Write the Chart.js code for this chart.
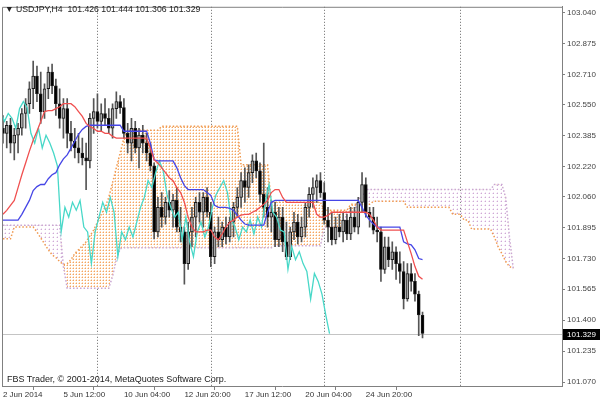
<!DOCTYPE html>
<html>
<head>
<meta charset="utf-8">
<title>USDJPY,H4</title>
<script src="https://cdn.jsdelivr.net/npm/chart.js@4.4.1/dist/chart.umd.min.js"></script>
<style>
  html, body { margin: 0; padding: 0; background: #fff; }
  #wrap { position: relative; width: 600px; height: 404px; }
  .note { position: absolute; font-family: "Liberation Sans", Arial, sans-serif; color: #222; white-space: pre; }
  #head { left: 5px; top: 4px; font-size: 8.7px; }
  #foot { left: 7px; top: 374px; font-size: 9px; }
</style>
</head>
<body>
<div id="wrap">
  <canvas id="chart" width="600" height="404"></canvas>
  <div id="head" class="note">▼ USDJPY,H4  101.426 101.444 101.306 101.329</div>
  <div id="foot" class="note">FBS Trader, © 2001-2014, MetaQuotes Software Corp.</div>
</div>
<script>
/* Velas H4, barra 0 = 2 Jun 2014 */
const opens = [
  102.424, 102.397, 102.440, 102.345, 102.387, 102.424, 102.503, 102.555, 102.635, 102.703,
  102.608, 102.513, 102.635, 102.724, 102.650, 102.555, 102.477, 102.529, 102.397, 102.355,
  102.319, 102.292, 102.266, 102.250, 102.477, 102.513, 102.461, 102.503, 102.477, 102.424,
  102.529, 102.566, 102.534, 102.397, 102.345, 102.424, 102.319, 102.387, 102.345, 102.292,
  102.224, 101.871, 102.002, 101.950, 102.029, 101.987, 102.039, 101.897, 101.871, 101.702,
  101.871, 101.950, 102.029, 101.976, 102.055, 101.976, 101.739, 101.871, 101.829, 101.897,
  101.844, 101.923, 102.002, 102.055, 102.145, 102.108, 102.187, 102.250, 102.197, 102.071,
  102.002, 101.950, 101.976, 101.829, 101.950, 101.818, 101.739, 101.871, 101.923, 101.844,
  101.897, 102.002, 102.071, 102.108, 102.145, 102.081, 101.934, 101.897, 101.829, 101.897,
  101.871, 101.934, 101.860, 101.950, 101.897, 102.029, 102.124, 101.976, 101.950, 101.881,
  101.871, 101.671, 101.792, 101.723, 101.765, 101.702, 101.660, 101.513, 101.649, 101.607,
  101.539, 101.426,
];
const highs = [
  102.492, 102.461, 102.477, 102.424, 102.450, 102.529, 102.582, 102.672, 102.782, 102.756,
  102.724, 102.661, 102.750, 102.766, 102.687, 102.635, 102.582, 102.582, 102.461, 102.424,
  102.397, 102.371, 102.345, 102.503, 102.582, 102.608, 102.555, 102.582, 102.529, 102.555,
  102.619, 102.598, 102.582, 102.450, 102.477, 102.461, 102.424, 102.440, 102.397, 102.345,
  102.239, 102.055, 102.081, 102.055, 102.092, 102.071, 102.108, 102.002, 101.897, 101.923,
  102.002, 102.055, 102.081, 102.081, 102.108, 102.029, 101.897, 101.950, 101.923, 101.950,
  101.950, 102.029, 102.108, 102.187, 102.213, 102.229, 102.282, 102.292, 102.239, 102.345,
  102.108, 102.039, 102.029, 102.002, 102.002, 101.923, 101.897, 101.976, 101.965, 101.950,
  102.029, 102.108, 102.160, 102.176, 102.187, 102.134, 102.002, 101.976, 101.950, 101.965,
  101.976, 101.965, 102.002, 102.002, 102.055, 102.187, 102.160, 102.002, 102.002, 101.950,
  101.897, 101.844, 101.844, 101.818, 101.792, 101.765, 101.713, 101.702, 101.702, 101.649,
  101.555, 101.444,
];
const lows = [
  102.345, 102.319, 102.292, 102.255, 102.292, 102.387, 102.424, 102.503, 102.529, 102.566,
  102.450, 102.477, 102.582, 102.608, 102.492, 102.424, 102.371, 102.319, 102.303, 102.266,
  102.239, 102.229, 102.097, 102.213, 102.397, 102.424, 102.408, 102.440, 102.397, 102.371,
  102.477, 102.503, 102.371, 102.292, 102.250, 102.292, 102.213, 102.292, 102.250, 102.197,
  101.834, 101.844, 101.897, 101.913, 101.950, 101.897, 101.871, 101.818, 101.592, 101.671,
  101.792, 101.844, 101.923, 101.897, 101.950, 101.686, 101.702, 101.792, 101.792, 101.807,
  101.818, 101.844, 101.950, 102.002, 102.029, 102.055, 102.134, 102.160, 102.029, 101.950,
  101.897, 101.871, 101.792, 101.792, 101.765, 101.723, 101.723, 101.829, 101.807, 101.818,
  101.844, 101.950, 102.002, 102.029, 102.055, 101.913, 101.818, 101.802, 101.807, 101.844,
  101.818, 101.829, 101.829, 101.871, 101.860, 101.976, 101.950, 101.897, 101.860, 101.818,
  101.607, 101.649, 101.686, 101.671, 101.618, 101.597, 101.460, 101.502, 101.555, 101.502,
  101.318, 101.306,
];
const closes = [
  102.397, 102.440, 102.345, 102.387, 102.424, 102.503, 102.555, 102.635, 102.703, 102.608,
  102.513, 102.635, 102.724, 102.650, 102.555, 102.477, 102.529, 102.397, 102.355, 102.319,
  102.292, 102.266, 102.250, 102.477, 102.513, 102.461, 102.503, 102.477, 102.424, 102.529,
  102.566, 102.534, 102.397, 102.345, 102.424, 102.319, 102.387, 102.345, 102.292, 102.224,
  101.871, 102.002, 101.950, 102.029, 101.987, 102.039, 101.897, 101.871, 101.702, 101.871,
  101.950, 102.029, 101.976, 102.055, 101.976, 101.739, 101.871, 101.829, 101.897, 101.844,
  101.923, 102.002, 102.055, 102.145, 102.108, 102.187, 102.250, 102.197, 102.071, 102.002,
  101.950, 101.976, 101.829, 101.950, 101.818, 101.739, 101.871, 101.923, 101.844, 101.897,
  102.002, 102.071, 102.108, 102.145, 102.081, 101.934, 101.897, 101.829, 101.897, 101.871,
  101.934, 101.860, 101.950, 101.897, 102.029, 102.124, 101.976, 101.950, 101.881, 101.871,
  101.671, 101.792, 101.723, 101.765, 101.702, 101.660, 101.513, 101.649, 101.607, 101.539,
  101.428, 101.329,
];

/* Ichimoku */
const tenkan = [
  101.965, 101.986, 102.013, 102.039, 102.107, 102.176, 102.239, 102.302, 102.360, 102.408,
  102.460, 102.513, 102.518, 102.518, 102.529, 102.539, 102.555, 102.555, 102.555, 102.539,
  102.513, 102.487, 102.450, 102.434, 102.423, 102.408, 102.408, 102.397, 102.397, 102.381,
  102.371, 102.371, 102.371, 102.371, 102.371, 102.371, 102.371, 102.371, 102.371, 102.318,
  102.255, 102.239, 102.213, 102.187, 102.160, 102.144, 102.107, 102.081, 102.029, 101.950,
  101.897, 101.871, 101.871, 101.871, 101.881, 101.881, 101.844, 101.829, 101.860, 101.897,
  101.923, 101.934, 101.950, 101.960, 101.965, 101.965, 101.976, 101.986, 102.002, 102.018,
  102.039, 102.081, 102.097, 102.097, 102.055, 102.029, 102.029, 102.029, 102.029, 102.029,
  102.029, 102.029, 102.029, 101.965, 101.950, 101.950, 101.960, 101.976, 101.976, 101.976,
  101.976, 101.976, 101.976, 101.976, 101.976, 101.976, 101.976, 101.965, 101.934, 101.897,
  101.881, 101.881, 101.881, 101.881, 101.881, 101.881, 101.881, 101.818, 101.755, 101.686,
  101.634, 101.618,
];
const kijun = [
  101.934, 101.934, 101.934, 101.934, 101.934, 101.965, 102.002, 102.039, 102.092, 102.113,
  102.124, 102.124, 102.155, 102.176, 102.187, 102.229, 102.261, 102.282, 102.318, 102.355,
  102.392, 102.418, 102.434, 102.440, 102.440, 102.440, 102.440, 102.440, 102.440, 102.440,
  102.440, 102.440, 102.408, 102.408, 102.408, 102.408, 102.408, 102.408, 102.408, 102.345,
  102.255, 102.250, 102.250, 102.250, 102.250, 102.250, 102.213, 102.160, 102.118, 102.097,
  102.097, 102.097, 102.097, 102.097, 102.081, 102.066, 102.013, 102.002, 102.002, 102.002,
  101.997, 101.986, 101.960, 101.934, 101.913, 101.907, 101.907, 101.907, 101.907, 101.907,
  101.976, 102.029, 102.039, 102.039, 102.039, 102.039, 102.039, 102.039, 102.039, 102.039,
  102.039, 102.039, 102.039, 102.039, 102.039, 102.039, 102.039, 102.039, 102.039, 102.039,
  102.039, 102.039, 102.039, 102.039, 102.039, 102.002, 101.960, 101.934, 101.913, 101.897,
  101.897, 101.897, 101.897, 101.897, 101.897, 101.897, 101.818, 101.807, 101.802, 101.776,
  101.729, 101.723,
];
// las nubes van 24 barras por delante del precio
const spanA = [
  101.834, 101.834, 101.834, 101.897, 101.897, 101.897, 101.897, 101.897, 101.897, 101.871,
  101.839, 101.807, 101.776, 101.749, 101.734, 101.713, 101.697, 101.702, 101.723, 101.755,
  101.776, 101.797, 101.818, 101.850, 101.881, 101.923, 101.965, 102.002, 102.055, 102.134,
  102.213, 102.292, 102.371, 102.413, 102.413, 102.413, 102.413, 102.413, 102.413, 102.413,
  102.413, 102.413, 102.435, 102.435, 102.435, 102.435, 102.435, 102.435, 102.435, 102.435,
  102.435, 102.435, 102.435, 102.435, 102.435, 102.435, 102.435, 102.435, 102.435, 102.435,
  102.435, 102.435, 102.435, 102.229, 102.229, 102.229, 102.229, 102.229, 102.229, 102.229,
  102.229, 102.029, 102.029, 102.029, 102.029, 102.029, 102.029, 102.029, 102.029, 102.029,
  102.029, 102.029, 102.029, 102.029, 102.029, 101.987, 101.987, 101.987, 101.987, 101.987,
  101.987, 101.987, 102.018, 102.018, 102.018, 102.018, 102.018, 102.018, 102.034, 102.034,
  102.034, 102.034, 102.034, 102.034, 102.034, 102.034, 102.034, 102.002, 102.002, 102.002,
  102.002, 102.002, 102.002, 102.002, 102.002, 102.002, 102.002, 102.002, 102.002, 101.965,
  101.965, 101.965, 101.934, 101.934, 101.886, 101.886, 101.886, 101.886, 101.886, 101.886,
  101.844, 101.792, 101.755, 101.713, 101.686, 101.676,
];
const spanB = [
  101.907, 101.907, 101.907, 101.907, 101.907, 101.907, 101.907, 101.907, 101.907, 101.907,
  101.907, 101.907, 101.907, 101.907, 101.907, 101.907, 101.686, 101.571, 101.571, 101.571,
  101.571, 101.571, 101.571, 101.571, 101.571, 101.571, 101.571, 101.571, 101.571, 101.634,
  101.723, 101.781, 101.786, 101.786, 101.786, 101.786, 101.786, 101.786, 101.786, 101.786,
  101.786, 101.786, 101.786, 101.786, 101.786, 101.786, 101.786, 101.786, 101.786, 101.786,
  101.786, 101.786, 101.786, 101.786, 101.786, 101.786, 101.786, 101.786, 101.786, 101.786,
  101.786, 101.786, 101.786, 101.786, 101.786, 101.786, 101.786, 101.786, 101.786, 101.786,
  101.786, 101.786, 101.797, 101.797, 101.797, 101.797, 101.797, 101.797, 101.797, 101.797,
  101.797, 101.797, 101.797, 101.797, 101.797, 101.897, 101.897, 101.897, 101.897, 101.897,
  101.897, 101.976, 101.976, 101.976, 102.050, 102.050, 102.097, 102.097, 102.097, 102.097,
  102.097, 102.097, 102.097, 102.097, 102.097, 102.097, 102.097, 102.097, 102.097, 102.097,
  102.097, 102.097, 102.097, 102.097, 102.097, 102.097, 102.097, 102.097, 102.097, 102.097,
  102.097, 102.097, 102.097, 102.097, 102.097, 102.097, 102.097, 102.097, 102.097, 102.097,
  102.124, 102.124, 102.124, 102.055, 101.844, 101.676,
];

/* Ejes */
const priceTicks = [
  103.04, 102.875, 102.71, 102.55, 102.385, 102.22, 102.06,
  101.895, 101.73, 101.565, 101.4, 101.235, 101.07,
];
const timeTickBars = [0, 16, 32, 48, 64, 80, 96];
const timeTickLabels = [
  "2 Jun 2014", "5 Jun 12:00", "10 Jun 04:00", "12 Jun 20:00",
  "17 Jun 12:00", "20 Jun 04:00", "24 Jun 20:00",
];
// separadores semanales: 9 Jun, 16 Jun, 23 Jun, 30 Jun
const weekBars = [25, 55, 85, 121];
const bid = 101.329;

const CHIKOU_SHIFT = 24.6;
const FONT = "'Liberation Sans', Arial, sans-serif";

const canvas = document.getElementById("chart");
const ctx = canvas.getContext("2d");

// textura de puntos para la nube
const dots = (color, soft, step) => {
  const tile = document.createElement("canvas");
  tile.width = step;
  tile.height = step;
  const g = tile.getContext("2d");
  g.fillStyle = soft;
  g.fillRect(0, 1, 1, 1);
  g.fillRect(1, 0, 1, 1);
  g.fillStyle = color;
  g.fillRect(1, 1, 1, 1);
  return ctx.createPattern(tile, "repeat");
};
const orangeDots = dots("#f4a460", "#fbd9b8", 3);
const thistleDots = dots("#cfa9d6", "#efe1f1", 4);

const xy = (values, shift = 0) => values.map((v, i) => ({ x: i - shift, y: v }));

const line = (label, values, color, order, shift) => ({
  type: "line",
  label: label,
  data: xy(values, shift),
  borderColor: color,
  borderWidth: 1.3,
  pointRadius: 0,
  fill: false,
  order: order,
});

const frame = {
  id: "frame",
  beforeDatasetsDraw(chart) {
    const { ctx, chartArea: a, scales } = chart;
    ctx.save();
    // separadores de semana
    ctx.strokeStyle = "#666";
    ctx.lineWidth = 1;
    ctx.setLineDash([1, 2]);
    weekBars.forEach((b) => {
      const x = Math.round(scales.x.getPixelForValue(b)) + 0.5;
      ctx.beginPath();
      ctx.moveTo(x, a.top);
      ctx.lineTo(x, a.bottom);
      ctx.stroke();
    });
    ctx.setLineDash([]);
    // linea bid
    const y = Math.round(scales.y.getPixelForValue(bid)) + 0.5;
    ctx.strokeStyle = "#c4c4c4";
    ctx.beginPath();
    ctx.moveTo(a.left, y);
    ctx.lineTo(a.right, y);
    ctx.stroke();
    ctx.restore();
  },
  afterDraw(chart) {
    const { ctx, chartArea: a, scales } = chart;
    ctx.save();
    ctx.strokeStyle = "#808080";
    ctx.lineWidth = 1;
    ctx.beginPath();
    ctx.moveTo(a.left + 0.5, a.bottom);
    ctx.lineTo(a.left + 0.5, a.top + 0.5);
    ctx.lineTo(a.right, a.top + 0.5);
    ctx.stroke();
    // etiqueta del precio actual
    const y = Math.round(scales.y.getPixelForValue(bid));
    ctx.fillStyle = "#000";
    ctx.fillRect(a.right + 1, y - 5, 600 - a.right - 1, 11);
    ctx.fillStyle = "#fff";
    ctx.font = "8px " + FONT;
    ctx.textBaseline = "middle";
    ctx.fillText(bid.toFixed(3), a.right + 5, y + 0.5);
    ctx.restore();
  },
};

const config = {
  type: "bar",
  data: {
    datasets: [
      {
        type: "line",
        label: "Senkou Span A",
        data: xy(spanA),
        borderColor: "#f09a50",
        borderWidth: 1.5,
        borderDash: [1.5, 2],
        pointRadius: 0,
        fill: { target: "+1", above: orangeDots, below: thistleDots },
        order: 9,
      },
      {
        type: "line",
        label: "Senkou Span B",
        data: xy(spanB),
        borderColor: "#c9a6d2",
        borderWidth: 1.5,
        borderDash: [1.5, 2],
        pointRadius: 0,
        fill: false,
        order: 8,
      },
      {
        label: "wicks",
        data: highs.map((h, i) => ({ x: i, y: [lows[i], h] })),
        backgroundColor: "#555",
        barThickness: 1,
        grouped: false,
        order: 6,
      },
      {
        label: "bodies",
        data: opens.map((o, i) => ({ x: i, y: [o, closes[i]] })),
        backgroundColor: (c) =>
          closes[c.dataIndex] >= opens[c.dataIndex] ? "#a8a8a8" : "#000",
        borderColor: "#1a1a1a",
        borderWidth: 1,
        borderSkipped: false,
        barThickness: 3,
        grouped: false,
        order: 5,
      },
      line("Chikou Span", closes, "#48d8c8", 3, CHIKOU_SHIFT),
      line("Kijun-sen", kijun, "#4646e6", 2),
      line("Tenkan-sen", tenkan, "#f05050", 1),
    ],
  },
  options: {
    responsive: false,
    animation: false,
    events: [],
    layout: { padding: { left: 2, top: 2, right: 0, bottom: 0 } },
    plugins: {
      legend: { display: false },
      tooltip: { enabled: false },
    },
    scales: {
      x: {
        type: "linear",
        min: -0.25,
        max: 147.9,
        offset: false,
        afterBuildTicks: (s) => {
          s.ticks = timeTickBars.map((v) => ({ value: v }));
        },
        afterFit: (s) => {
          s.height = 18;
        },
        grid: { drawOnChartArea: false, tickLength: 4, color: "#808080" },
        border: { color: "#808080" },
        ticks: {
          align: "start",
          padding: 0,
          maxRotation: 0,
          autoSkip: false,
          color: "#333",
          font: { family: FONT, size: 8 },
          callback: (v, i) => timeTickLabels[i],
        },
      },
      y: {
        type: "linear",
        position: "right",
        min: 101.049,
        max: 103.072,
        afterBuildTicks: (s) => {
          s.ticks = priceTicks.map((v) => ({ value: v }));
        },
        afterFit: (s) => {
          s.width = 38;
        },
        grid: { drawOnChartArea: false, tickLength: 3, color: "#808080" },
        border: { color: "#808080" },
        ticks: {
          padding: 2,
          autoSkip: false,
          color: "#444",
          font: { family: FONT, size: 8 },
          callback: (v) => v.toFixed(3),
        },
      },
    },
  },
  plugins: [frame],
};

new Chart(ctx, config);
</script>
</body>
</html>
